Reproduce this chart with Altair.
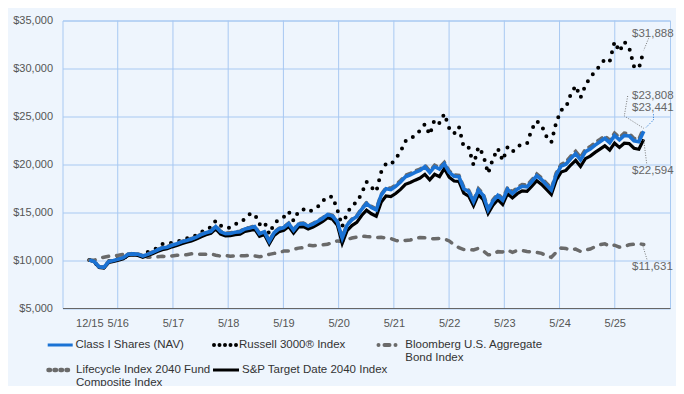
import altair as alt
import pandas as pd

# ---- data (month index 0 = 11/15 start ... 114 = 5/25) ----
class_i = [10000, 9850, 9300, 9250, 9850, 9950, 10100, 10250, 10600, 10650,
           10600, 10420, 10600, 10800, 11050, 11250, 11350, 11550, 11700, 11900,
           12050, 12200, 12400, 12650, 12850, 13000, 13500, 12950, 12750, 12780,
           12900, 12950, 13250, 13350, 13500, 12750, 12950, 11950, 12850, 13250,
           13400, 13800, 13100, 13750, 13800, 13550, 13750, 14050, 14350, 14750,
           14600, 14000, 12300, 13650, 14200, 14550, 15300, 15900, 15500, 15230,
           16750, 17450, 17350, 17700, 18150, 18700, 18900, 19150, 19350, 19750,
           19150, 19750, 19500, 20050, 19150, 18750, 18700, 17450, 17150, 16100,
           17300, 16750, 15250, 16150, 16750, 16250, 17400, 16950, 17400, 17700,
           17650, 18200, 18800, 18400, 17850, 17300, 18900, 19800, 20000, 20600,
           21100, 20450, 21300, 21600, 22000, 22350, 22700, 22250, 23000, 22550,
           23000, 22950, 22450, 22350, 23441]

sp_2040 = [10000, 9830, 9220, 9170, 9760, 9860, 10000, 10140, 10480, 10530,
           10480, 10300, 10470, 10660, 10900, 11090, 11190, 11380, 11520, 11710,
           11860, 12000, 12200, 12440, 12640, 12790, 13260, 12710, 12520, 12540,
           12650, 12700, 12990, 13090, 13230, 12480, 12680, 11700, 12580, 12970,
           13120, 13500, 12820, 13450, 13500, 13250, 13450, 13740, 14030, 14420,
           14270, 13640, 11750, 13080, 13600, 13930, 14650, 15210, 14830, 14570,
           16020, 16690, 16620, 16950, 17380, 17900, 18100, 18340, 18560, 18950,
           18380, 18950, 18710, 19560, 18650, 18250, 18200, 16980, 16680, 15680,
           16830, 16300, 14870, 15720, 16300, 15810, 16930, 16490, 16930, 17220,
           17170, 17700, 18290, 17900, 17370, 16850, 18330, 19180, 19360, 19920,
           20400, 19760, 20580, 20850, 21240, 21580, 21920, 21480, 22200, 21760,
           22200, 22150, 21670, 21570, 22594]

lifecycle = [10000, 9870, 9320, 9280, 9890, 9990, 10140, 10290, 10640, 10690,
             10640, 10460, 10640, 10850, 11100, 11300, 11400, 11600, 11750, 11950,
             12100, 12250, 12450, 12700, 12900, 13050, 13560, 13010, 12810, 12840,
             12960, 13010, 13310, 13410, 13560, 12810, 13010, 12010, 12920, 13320,
             13470, 13870, 13170, 13820, 13870, 13620, 13820, 14120, 14420, 14820,
             14670, 14070, 12380, 13740, 14290, 14640, 15390, 16000, 15600, 15330,
             16850, 17550, 17500, 17850, 18300, 18850, 19050, 19300, 19500, 19900,
             19300, 19900, 19650, 20200, 19300, 18900, 18850, 17600, 17300, 16250,
             17450, 16900, 15400, 16300, 16900, 16400, 17580, 17130, 17580, 17880,
             17830, 18380, 18980, 18580, 18030, 17480, 19080, 19980, 20250, 20850,
             21350, 20700, 21550, 21850, 22250, 22600, 22950, 22500, 23250, 22800,
             23250, 23200, 22700, 22600, 23808]

russell = [10000, 9800, 9270, 9260, 9900, 9960, 10140, 10160, 10570, 10600,
           10600, 10370, 10840, 11050, 11260, 11680, 11690, 11820, 11940, 12050,
           12280, 12300, 12600, 12880, 13280, 13410, 14120, 13600, 13330, 13380,
           13760, 13850, 14310, 14800, 14830, 13730, 14010, 12700, 13790, 14270,
           14490, 15070, 14090, 15080, 15300, 15000, 15240, 15570, 16160, 16630,
           16610, 15250, 13500, 14880, 15680, 16040, 16960, 18180, 17600, 17140,
           19180, 20040, 19960, 20580, 21320, 22430, 22540, 23100, 23500, 24180,
           23090, 24660, 24290, 25260, 23770, 23180, 23920, 21770, 21750, 19920,
           21790, 20990, 19040, 20580, 21650, 20370, 21780, 21280, 21850, 22070,
           22160, 23670, 24520, 24050, 22900, 22280, 24350, 25640, 25920, 27320,
           28190, 26950, 28220, 29090, 29650, 30300, 30940, 30720, 32780, 31760,
           32780, 32160, 30200, 29990, 31888]

bloomberg = [10000, 9970, 10200, 10300, 10400, 10450, 10500, 10600, 10650, 10650,
             10600, 10520, 10300, 10300, 10330, 10400, 10350, 10430, 10500, 10520,
             10560, 10650, 10620, 10620, 10600, 10650, 10500, 10420, 10480, 10400,
             10450, 10440, 10450, 10500, 10430, 10350, 10420, 10600, 10700, 10750,
             10950, 10950, 11120, 11250, 11300, 11550, 11500, 11550, 11600, 11650,
             11850, 12000, 11950, 12150, 12300, 12400, 12500, 12450, 12420, 12350,
             12380, 12300, 12250, 12050, 11950, 12050, 12100, 12250, 12350, 12320,
             12250, 12230, 12250, 12200, 12000, 11600, 11300, 11100, 11100, 11050,
             11230, 10950, 10550, 10600, 10880, 10850, 11050, 10800, 11000, 11000,
             10900, 10850, 10800, 10700, 10450, 10300, 10800, 11250, 11200, 11050,
             11150, 10900, 11050, 11150, 11400, 11600, 11700, 11450, 11550, 11350,
             11400, 11600, 11650, 11700, 11631]

x_labels = ["12/15", "5/16", "5/17", "5/18", "5/19", "5/20",
            "5/21", "5/22", "5/23", "5/24", "5/25"]
y_ticks = [5000, 10000, 15000, 20000, 25000, 30000, 35000]

end_labels = ["$31,888", "$23,808", "$23,441", "$22,594", "$11,631"]
end_label_y = [33640, 27140, 25920, 19320, 9230]

# ---- styling ----
BG = "#eef5fd"
GRID = "#a8c9f2"
BLUE = "#1a72d4"
GRAY = "#6a6a6a"
FONT = "Liberation Sans"
LEG_FONT = "Liberation Sans Narrow, Arial Narrow, Liberation Sans"
W, H = 607.5, 287.5

X_LO, X_HI = -5.51, 119.4
step = (X_HI - X_LO) / 11
grid_pos = [X_LO + k * step for k in range(1, 11)]
tick_pos = [0] + grid_pos

n = list(range(len(class_i)))

def frame(vals):
    return pd.DataFrame({"n": n, "v": vals})

xs = alt.Scale(domain=[X_LO, X_HI], nice=False, zero=False)
ys = alt.Scale(domain=[5000, 35000], nice=False, zero=False)

label_expr = "[" + ",".join("'%s'" % s for s in x_labels) + "][round((datum.value - (%f)) / %f)]" % (X_LO, step)

x_enc = alt.X("n:Q", scale=xs, axis=alt.Axis(
    values=tick_pos, labelExpr=label_expr, grid=False, ticks=False,
    domainColor="#666666", domainWidth=1, labelColor="#555555", labelFontSize=11,
    labelFont=FONT, labelPadding=9, title=None, labelFlush=False))
y_enc = alt.Y("v:Q", scale=ys, axis=alt.Axis(
    values=y_ticks, format="$,.0f", grid=True, gridColor=GRID, gridWidth=1,
    ticks=False, domain=False, labelColor="#555555", labelFontSize=11,
    labelFont=FONT, labelPadding=10, title=None))

base_grid = alt.Chart(pd.DataFrame({"g": grid_pos})).mark_rule(
    color=GRID, strokeWidth=1).encode(x=alt.X("g:Q", scale=xs))

axes_layer = alt.Chart(frame(class_i)).mark_line(opacity=0).encode(x=x_enc, y=y_enc)

def line(vals, **kw):
    return alt.Chart(frame(vals)).mark_line(**kw).encode(
        x=alt.X("n:Q", scale=xs), y=alt.Y("v:Q", scale=ys))

bb = line(bloomberg, color=GRAY, strokeWidth=3.5, strokeDash=[6, 8], strokeCap="round")
ru = line(russell, color="#000000", strokeWidth=4, strokeDash=[0, 8.5], strokeCap="round")
sp = line(sp_2040, color="#000000", strokeWidth=3.2)
lc = line(lifecycle, color=GRAY, strokeWidth=3.5, strokeDash=[5, 6], strokeCap="round")
ci = line(class_i, color=BLUE, strokeWidth=3.6)

# end labels and leader lines (annotation positions in data units)
lab_df = pd.DataFrame({"n": [111.6] * 5, "v": end_label_y, "t": end_labels})
labels = alt.Chart(lab_df).mark_text(align="left", baseline="middle", font=FONT,
                                     fontSize=11.5, color="#666666").encode(
    x=alt.X("n:Q", scale=xs), y=alt.Y("v:Q", scale=ys), text="t:N")

leaders = pd.DataFrame({
    "grp": ["r", "r", "l", "l", "l", "c", "c", "c", "s", "s", "b", "b"],
    "o": [0, 1, 0, 1, 2, 0, 1, 2, 0, 1, 0, 1],
    "n": [115.0, 114.0, 110.7, 110.0, 114.0, 116.0, 116.0, 114.3, 114.0, 114.6, 113.7, 114.7],
    "v": [33140, 31900, 27120, 25040, 23750, 25210, 24620, 23750, 22530, 20100, 11680, 10010],
})
lead_gray = alt.Chart(leaders[leaders.grp != "c"]).mark_line(
    color="#777777", strokeWidth=1, strokeDash=[1, 1.5]).encode(
    x=alt.X("n:Q", scale=xs), y=alt.Y("v:Q", scale=ys), detail="grp:N", order="o:Q")
lead_blue = alt.Chart(leaders[leaders.grp == "c"]).mark_line(
    color=BLUE, strokeWidth=1, strokeDash=[1, 1.5]).encode(
    x=alt.X("n:Q", scale=xs), y=alt.Y("v:Q", scale=ys), order="o:Q")

# ---- legend (drawn below the plot) ----
one = pd.DataFrame({"a": [0]})
def leg_line(x1, x2, y, **kw):
    return alt.Chart(one).mark_rule(**kw).encode(
        x=alt.value(x1), x2=alt.value(x2), y=alt.value(y))
def leg_text(x, y, txt):
    return alt.Chart(one).mark_text(align="left", baseline="middle", font=LEG_FONT,
                                    fontSize=11.5, color="#333333", lineHeight=12.5).encode(
        x=alt.value(x), y=alt.value(y), text=alt.value(txt))

R1, R2 = 324.5, 349.5
legend = [
    leg_line(-14.8, 10.2, R1, color=BLUE, strokeWidth=3),
    leg_text(13, R1, "Class I Shares (NAV)"),
    leg_line(151.5, 174.5, R1, color="#000000", strokeWidth=4, strokeDash=[0, 5.5], strokeCap="round"),
    leg_text(176.5, R1, "Russell 3000® Index"),
    leg_line(316, 337.5, R1, color=GRAY, strokeWidth=4, strokeDash=[0, 6, 5, 6], strokeCap="round"),
    leg_text(342.8, R1, ["Bloomberg U.S. Aggregate", "Bond Index"]),
    leg_line(-14, 9.2, R2, color=GRAY, strokeWidth=4.5, strokeDash=[1.5, 4.5], strokeCap="round"),
    leg_text(13.5, R2, ["Lifecycle Index 2040 Fund", "Composite Index"]),
    leg_line(150.5, 176.5, R2, color="#000000", strokeWidth=3),
    leg_text(179.5, R2, "S&P Target Date 2040 Index"),
]

chart = alt.layer(base_grid, axes_layer, bb, ru, sp, lc, ci, lead_gray, lead_blue, labels, *legend).properties(
    width=W, height=H,
    autosize=alt.AutoSizeParams(type="none"),
    padding={"left": 54.5, "top": 12.5, "right": 6, "bottom": 78},
    background=BG,
).configure_view(stroke=GRID, strokeWidth=1, fill=BG)

chart.save("out.html", embed_options={"renderer": "svg", "actions": False})
